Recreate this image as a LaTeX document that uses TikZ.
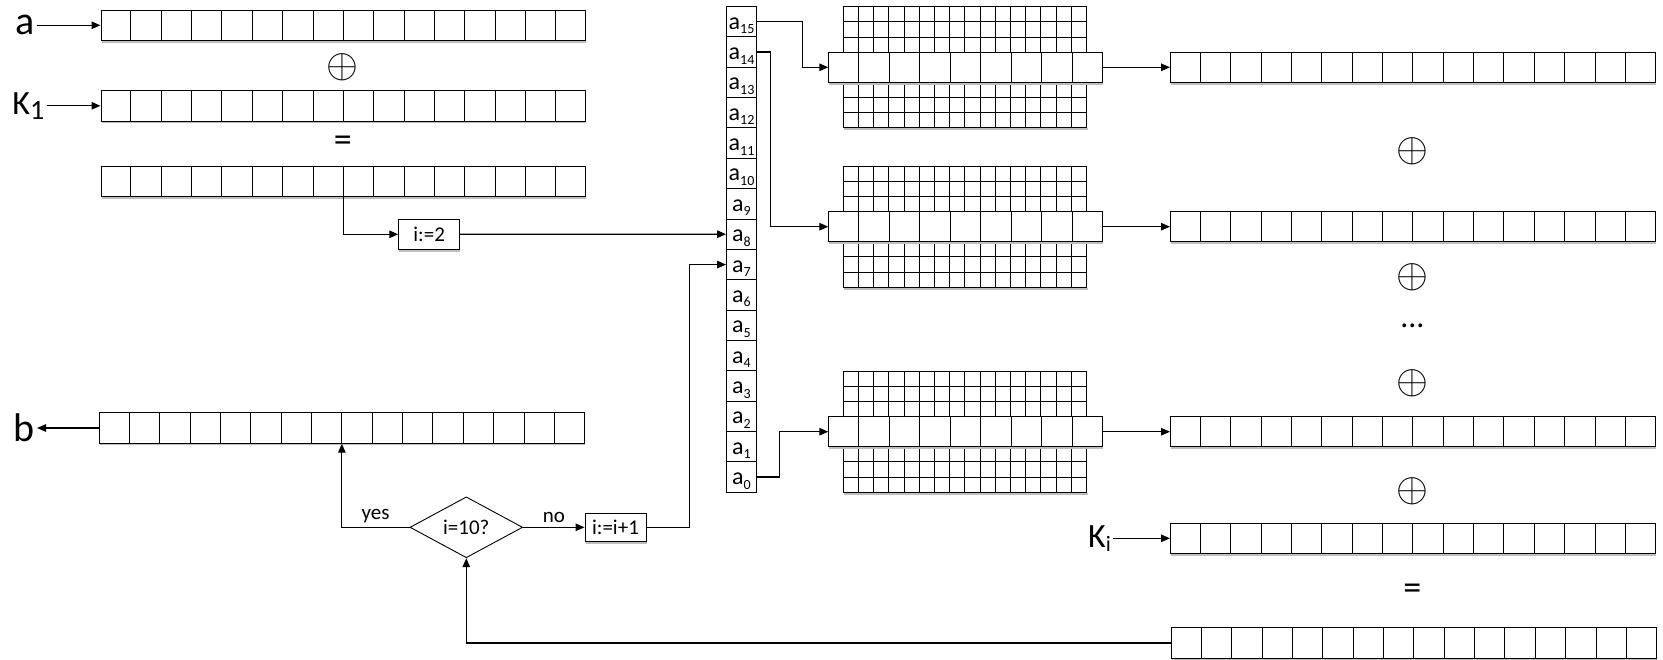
\documentclass[tikz,border=0pt]{standalone}
\usepackage{fontspec}
\setmainfont{Carlito}
\usetikzlibrary{arrows.meta,calc,positioning,shapes.geometric,shadows}
\definecolor{shadecol}{RGB}{190,190,190}

\tikzset{
  cell/.style={draw=black, line width=0.9pt},
  rowbox/.style={cell, fill=white, inner sep=0pt, minimum height=30.4pt,
    drop shadow={shadow xshift=0.6pt, shadow yshift=-2.2pt, fill=shadecol, opacity=1}},
  acell/.style={cell, fill=white, inner sep=0pt, minimum width=30pt, minimum height=30.36pt,
    text height=17pt, text depth=2pt},
  stepbox/.style={rowbox, minimum width=61pt, minimum height=30pt, font=\fontsize{21}{25}\selectfont},
  testbox/.style={diamond, cell, fill=white, inner sep=0pt, minimum width=112.7pt,
    minimum height=56pt, font=\fontsize{21}{25}\selectfont},
  arr/.style={draw=black, line width=1.2pt, -{Triangle[length=9pt,width=7.5pt]}},
  lbl/.style={inner sep=1pt, font=\fontsize{21}{25}\selectfont},
  biglabel/.style={inner sep=2pt, font=\fontsize{40}{44}\selectfont},
  klabel/.style={inner sep=2pt, font=\fontsize{34}{38}\selectfont},
  xorsym/.style={inner sep=0pt},
  eqsym/.style={inner sep=0pt, font=\fontsize{36}{36}\selectfont},
}
\newcommand{\bigxor}{\scalebox{4.1}{$\oplus$}}

% row of equal cells: name, west x, centre y, number of cells, cell width
\newcommand{\cellrow}[5]{%
  \node[rowbox, anchor=west, minimum width=#4*#5pt] (#1) at (#2,#3) {};
  \pgfmathtruncatemacro{\lastcell}{#4-1}
  \foreach \k in {1,...,\lastcell}
    \draw[cell] ($(#1.south west)!\k/#4!(#1.south east)$) -- ($(#1.north west)!\k/#4!(#1.north east)$);
}

% lookup block: small grid above and below a band of 9 cells
\newcommand{\lutblock}[2]{%
  \draw[line width=2pt, shadecol] (844,#2+61.8) -- (1087.5,#2+61.8);
  \foreach \s in {-1,1}{
    \foreach \r in {0,...,3}
      \draw[cell] (843.3,{#2+\s*(15+\r*15.2)}) -- (1086.5,{#2+\s*(15+\r*15.2)});
    \foreach \j in {0,...,16}
      \draw[cell] ({843.3+\j*15.2},{#2+\s*15}) -- ({843.3+\j*15.2},{#2+\s*60.6});
  }
  \cellrow{#1}{828.3}{#2}{9}{30.38}
}

\begin{document}
\begin{tikzpicture}[x=1pt, y=-1pt]
\useasboundingbox (0,0) rectangle (1663,659);

% ===== Left column: a xor K1 =====
\cellrow{arow}{100.5}{25.3}{16}{30.3}
\cellrow{k1row}{100.5}{105.8}{16}{30.3}
\cellrow{sum}{100.5}{181.3}{16}{30.3}
\cellrow{brow}{99}{428}{16}{30.3}
\node[xorsym] (xorL) at (342.9,67) {\bigxor};
\node[eqsym] (eqL) at (342.9,144) {=};
\node[biglabel, left=64pt of arow] (alabel) {a};
\node[klabel, left=54pt of k1row] (k1label) {K\raisebox{-5pt}{\fontsize{28}{28}\selectfont 1}};
\node[biglabel, left=62pt of brow] (blabel) {b};

% ===== Loop control =====
\node[stepbox] (init) at (429.2,234.3) {i:=2};
\node[testbox] (test) at (466.3,527.3) {i=10?};
\node[stepbox, minimum height=28pt] (incr) at (615.5,527.3) {i:=i+1};

% ===== State column a0..a15 =====
\foreach \i in {0,...,15}
  \node[acell] (a\i) at (741.5,{6.5+(15.5-\i)*30.36})
    {{\fontsize{24}{24}\selectfont a}\raisebox{-4.5pt}{\fontsize{14}{14}\selectfont\i}};

% ===== Lookup blocks =====
\lutblock{lut1}{67.3}
\lutblock{lut2}{226.7}
\lutblock{lut3}{431.7}

% ===== Right column =====
\cellrow{r1}{1170}{67.3}{16}{30.3}
\cellrow{r2}{1170}{226.7}{16}{30.3}
\cellrow{r3}{1170}{431.7}{16}{30.3}
\cellrow{r4}{1170}{538.3}{16}{30.3}
\cellrow{r5}{1171}{643}{16}{30.3}
\node[xorsym] (xorR1) at (1412.4,151) {\bigxor};
\node[xorsym] (xorR2) at (1412.4,277) {\bigxor};
\node[eqsym, font=\fontsize{32}{32}\selectfont] (dots) at (1412.4,326) {...};
\node[xorsym] (xorR3) at (1412.4,383) {\bigxor};
\node[xorsym] (xorR4) at (1412.4,491) {\bigxor};
\node[eqsym] (eqR) at (1412.4,592) {=};
\node[klabel, left=57pt of r4] (kilabel) {K\raisebox{-4pt}{\fontsize{22}{22}\selectfont i}};

% ===== Connectors =====
\draw[arr] (alabel.east) -- (arow.west);
\draw[arr] (k1label.east) -- (k1row.west);
\draw[arr] (brow.west) -- (blabel.east);
\draw[arr] (sum.south) |- (init.west);
\draw[arr] (init.east) -- (a8.west);
\draw[arr] (test.west) -| node[lbl, pos=0.25, above=3pt] {yes} (brow.south);
\draw[arr] (test.east) -- node[lbl, above=3pt] {no} (incr.west);
\draw[arr] (incr.east) -- ++(43,0) |- (a7.west);
\draw[arr] (r5.west) -| (test.south);
\draw[arr] (a15.east) -- ++(45.2,0) |- (lut1.west);
\draw[arr] (a14.east) -- ++(13.5,0) |- (lut2.west);
\draw[arr] (a0.east) -- ++(22.8,0) |- (lut3.west);
\foreach \k in {1,2,3}
  \draw[arr] (lut\k.east) -- (r\k.west);
\draw[arr] (kilabel.east) -- (r4.west);
\end{tikzpicture}
\end{document}
